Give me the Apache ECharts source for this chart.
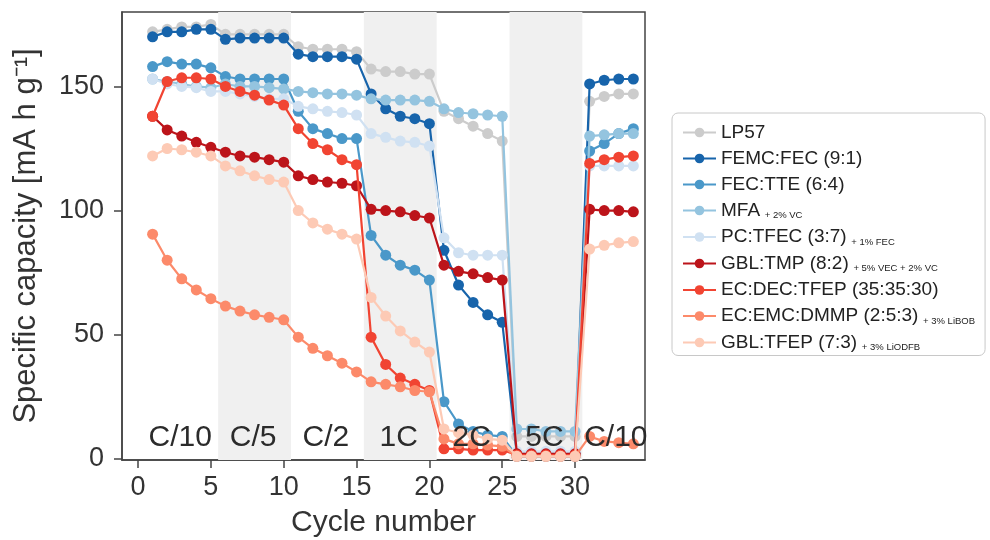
<!DOCTYPE html>
<html>
<head>
<meta charset="utf-8">
<script src="https://cdn.jsdelivr.net/npm/echarts@6/dist/echarts.min.js"></script>
<style>
  html, body { margin: 0; padding: 0; background: #fff; }
  #container { width: 990px; height: 540px; }
</style>
</head>
<body>
<div id="container"></div>
<script>
// cycle numbers
var cycles = [1,2,3,4,5,6,7,8,9,10,11,12,13,14,15,16,17,18,19,20,21,22,23,24,25,26,27,28,29,30,31,32,33,34];

// specific capacity per electrolyte (mA h g-1)
var lp57     = [172,173,174,174,175, 171,171,171,171,171, 166,165,165,165,164, 157,156,156,155,155, 140,137,134,131,128, 9,9,9,9,9, 144,146,147,147];
var femcFec  = [170,172,172,173,173, 169,169.5,169.5,169.5,169.5, 163,162,162,162,161, 147,141,138,137,135, 84,70,63,58,55, 2,2,2,2,2, 151,152.5,153,153];
var fecTte   = [158,160,159,159,157.5, 154,153,153,153,153, 140,133,131,129,129, 90,82,78,76,72, 23,14,11,9.5,9, 1,1,1,1,1, 124,127,131,133];
var mfa      = [153,152,151,150,149.5, 151,150,150,149.5,149, 148,147.5,147,147,146.5, 145,144.5,144.5,144.5,144, 141,139.5,139,138.5,138, 12,12,11,11,11, 130,130.5,131,131];
var pcTfec   = [153,151,150,149.5,148, 148,147,146,145,145, 142,141,140,139.5,138.5, 131,129.5,128,127.5,126, 89,83,82,82,82, 3,3,3,3,3, 118,118,118,118];
var gblTmp   = [138,132.5,130,127.5,125.5, 123.5,122,121.5,120.5,119.5, 114,112.5,111.5,111,110, 100.5,100,99.5,98,97, 78,75.5,74.5,73,72, 2,2,2,2,2, 100.5,100,100,99.5];
var ecDec    = [138,152,153.5,153.5,153, 150,148,146.5,144.5,142.5, 133,127,124.5,120.5,118.5, 49,38,32.5,30,27.5, 4,4,3.5,3.5,3.5, 1.5,1.5,1.5,1.5,1.5, 119,120.5,121.5,122];
var ecEmc    = [90.5,80,72.5,68,64.5, 61.5,59.5,58,57,56, 49,44.5,41.5,38.5,35, 31,30,29,27.5,27, 8,6,6,5.5,5, 1,1,1,1,1, 9,7,6.5,6];
var gblTfep  = [122,125,124.5,123.5,122, 118,116,114,112.5,111.5, 100,95,92.5,90.5,88.5, 65,57.5,51.5,47,43, 12,10.5,9.5,8,7.5, 1,1,1,1,1, 84.5,86,87,87.5];

var names  = ['LP57','FEMC:FEC (9:1)','FEC:TTE (6:4)','MFA','PC:TFEC (3:7)','GBL:TMP (8:2)','EC:DEC:TFEP (35:35:30)','EC:EMC:DMMP (2:5:3)','GBL:TFEP (7:3)'];
var extras = ['','','',' + 2% VC',' + 1% FEC',' + 5% VEC + 2% VC','',' + 3% LiBOB',' + 3% LiODFB'];
var colors = ['#cccccc','#1764ab','#4a98c9','#94c4df','#d0e1f2','#bc141a','#f14432','#fc8a6a','#fdcab5'];
var values = [lp57, femcFec, fecTte, mfa, pcTfec, gblTmp, ecDec, ecEmc, gblTfep];

// shaded rate blocks and rate labels
var bandStart = [5.5, 15.5, 25.5];
var bandEnd   = [10.5, 20.5, 30.5];
var rateNames = ['C/10','C/5','C/2','1C','2C','5C','C/10'];
var rateX     = [2.9, 7.9, 12.9, 17.9, 22.9, 27.9, 32.8];
var rateY     = 8.3;

var xTicks = [0,5,10,15,20,25,30];
var yTicks = [0,50,100,150];

var font = 'Liberation Sans, Arial, sans-serif';

function main() {
	var myChart = echarts.init(document.getElementById('container'));
	var series = [];

	var areas = [];
	for (var b = 0; b < bandStart.length; b++) {
		areas.push([{ xAxis: bandStart[b] }, { xAxis: bandEnd[b] }]);
	}
	series.push({
		name: 'bands', type: 'line', data: [], z: 1, silent: true,
		markArea: { silent: true, itemStyle: { color: '#f0f0f0' }, data: areas }
	});

	for (var i = 0; i < names.length; i++) {
		var pts = [];
		for (var k = 0; k < cycles.length; k++) pts.push([cycles[k], values[i][k]]);
		series.push({
			name: names[i], type: 'line', data: pts, z: 3 + i,
			symbol: 'circle', symbolSize: 11, clip: false,
			color: colors[i],
			lineStyle: { width: 2.2, color: colors[i] },
			itemStyle: { color: colors[i] }
		});
	}

	var lbl = [];
	for (var r = 0; r < rateNames.length; r++) lbl.push({ value: [rateX[r], rateY], name: rateNames[r] });
	series.push({
		name: 'rates', type: 'scatter', symbol: 'circle', symbolSize: 1, z: 20, silent: true, data: lbl,
		itemStyle: { color: 'rgba(0,0,0,0)' },
		label: {
			show: true, position: 'inside', formatter: '{b}',
			fontSize: 30, color: '#2b2b2b', fontFamily: font,
			textBorderWidth: 0, opacity: 1
		}
	});

	var option = {
		animation: false,
		textStyle: { fontFamily: font },
		grid: {
			left: 122, right: 345, top: 12, bottom: 80,
			outerBoundsMode: 'none', containLabel: false,
			show: true, borderColor: '#444', borderWidth: 1.5, backgroundColor: 'transparent'
		},
		legend: {
			data: names,
			orient: 'vertical',
			left: 672, top: 113,
			itemWidth: 33, itemHeight: 12, itemGap: 7,
			padding: [10, 10, 3, 10],
			backgroundColor: '#fff',
			borderColor: '#c8c8c8', borderWidth: 1, borderRadius: 6,
			formatter: function (name) {
				var e = extras[names.indexOf(name)];
				return '{a|' + name + '}' + (e ? '{b|' + e + '}' : '');
			},
			textStyle: {
				rich: {
					a: { fontSize: 19, color: '#222', fontFamily: font, lineHeight: 20 },
					b: { fontSize: 9.5, color: '#222', fontFamily: font, verticalAlign: 'bottom', padding: [0, 0, 0, 2] }
				}
			}
		},
		xAxis: {
			type: 'value', min: -1.1, max: 34.8,
			name: 'Cycle number', nameLocation: 'middle', nameGap: 48,
			nameTextStyle: { fontSize: 30, color: '#333', fontFamily: font },
			axisLine: { show: true, onZero: false, lineStyle: { color: '#444', width: 1.5 } },
			axisTick: { show: true, length: 8, customValues: xTicks, lineStyle: { color: '#444', width: 1.5 } },
			axisLabel: { fontSize: 27, color: '#333', margin: 14, customValues: xTicks },
			splitLine: { show: false }
		},
		yAxis: {
			type: 'value', min: -0.5, max: 180,
			name: 'Specific capacity [mA h g\u207B\u00B9]', nameLocation: 'middle', nameGap: 80,
			nameTextStyle: { fontSize: 31, color: '#333', fontFamily: font },
			axisLine: { show: true, onZero: false, lineStyle: { color: '#444', width: 1.5 } },
			axisTick: { show: true, length: 8, customValues: yTicks, lineStyle: { color: '#444', width: 1.5 } },
			axisLabel: { fontSize: 27, color: '#333', margin: 18, customValues: yTicks },
			splitLine: { show: false }
		},
		series: series
	};
	myChart.setOption(option, true);
}
main();
</script>
</body>
</html>
